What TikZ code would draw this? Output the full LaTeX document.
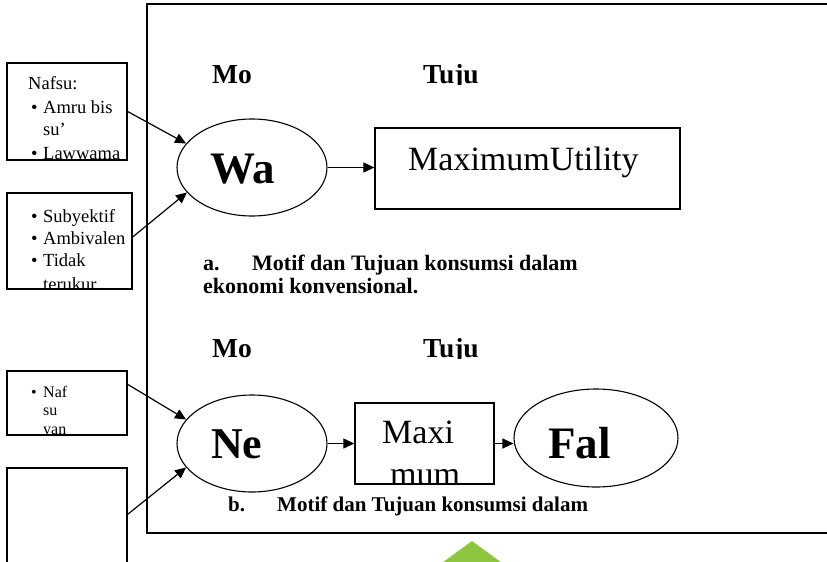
\documentclass[tikz,border=0pt]{standalone}
\usepackage{fontspec}
\setmainfont{Liberation Serif}
\usetikzlibrary{shapes.geometric,arrows.meta}
\definecolor{lgreen}{RGB}{140,198,63}
\begin{document}
\begin{tikzpicture}[x=1pt,y=-1pt,
  boxn/.style={draw,line width=1.3pt,inner sep=0pt,rectangle},
  ell/.style={draw,line width=1.1pt,ellipse,inner sep=0pt},
  txt/.style={inner sep=0pt,anchor=base west},
  lst/.style={txt,font=\fontsize{18.5}{22}\selectfont},
  lsts/.style={txt,font=\fontsize{16}{19}\selectfont},
  head/.style={txt,font=\bfseries\fontsize{27.5}{30}\selectfont},
  big/.style={txt,font=\bfseries\fontsize{45}{50}\selectfont},
  mid/.style={txt,font=\fontsize{34}{40}\selectfont},
  capa/.style={txt,font=\bfseries\fontsize{22}{25}\selectfont},
  capb/.style={txt,font=\bfseries\fontsize{21}{24}\selectfont},
  arr/.style={line width=1.2pt,-{Triangle[length=11pt,width=10pt]}},
  frm/.style={line width=1.4pt}]
\useasboundingbox (0,0) rectangle (827,562);

% frame
\draw[frm] (827,4) -- (147,4) -- (147,533) -- (827,533);

% left boxes
\node[boxn,minimum width=120pt,minimum height=97pt] (b1) at (67,111.5) {};
\node[boxn,minimum width=125pt,minimum height=96pt] (b2) at (69.5,241) {};
\node[boxn,minimum width=120pt,minimum height=64pt] (b3) at (67,403) {};
\node[boxn,minimum width=120pt,minimum height=96pt] (b4) at (67,516) {};

\begin{scope}
\clip (b1.south west) rectangle (b1.north east);
\node[lst] (t1a) at (28,89) {Nafsu:};
\node[lst] (t1b) at (31,113) {•};
\node[lst] (t1c) at (43,113) {Amru bis};
\node[lst] (t1d) at (43,135) {su’};
\node[lst] (t1e) at (31,159.5) {•};
\node[lst] (t1f) at (43,159.5) {Lawwama};
\end{scope}

\begin{scope}
\clip (b2.south west) rectangle (b2.north east);
\node[lst] (t2a) at (31,222) {•};
\node[lst] (t2b) at (43,222) {Subyektif};
\node[lst] (t2c) at (31,244) {•};
\node[lst] (t2d) at (43,244) {Ambivalen};
\node[lst] (t2e) at (31,266) {•};
\node[lst] (t2f) at (43,266) {Tidak};
\node[lst] (t2g) at (43,290) {terukur};
\end{scope}

\begin{scope}
\clip (b3.south west) rectangle (b3.north east);
\node[lsts] (t3a) at (31,397) {•};
\node[lsts] (t3b) at (43,397) {Naf};
\node[lsts] (t3c) at (43,415) {su};
\node[lsts] (t3d) at (43,434) {yan};
\end{scope}

% headings
\node[head] (mo1) at (212,83) {Mo};
\begin{scope}
\clip (400,40) rectangle (520,84.5);
\node[head] (tu1) at (423,83) {Tuju};
\end{scope}
\node[head] (mo2) at (212,357) {Mo};
\begin{scope}
\clip (400,310) rectangle (520,358.5);
\node[head] (tu2) at (423,357) {Tuju};
\end{scope}

% part a
\node[ell,minimum width=150pt,minimum height=97pt] (wa) at (252,167.5) {};
\node[big] (waT) at (210,183) {Wa};
\node[boxn,minimum width=305pt,minimum height=81pt] (mx) at (527.5,168.5) {};
\node[mid] (mxT) at (408,170) {MaximumUtility};

\node[capa] (ca1) at (203,270) {a.};
\node[capa] (ca2) at (252,270) {Motif dan Tujuan konsumsi dalam};
\node[capa] (ca3) at (203,293) {ekonomi konvensional.};

% part b
\node[ell,minimum width=150pt,minimum height=97pt] (ne) at (252,443.5) {};
\node[big,font=\bfseries\fontsize{44}{50}\selectfont] (neT) at (211,458) {Ne};
\node[boxn,minimum width=139pt,minimum height=81pt] (mx2) at (424.5,443.5) {};
\begin{scope}
\clip (mx2.south west) rectangle (mx2.north east);
\node[mid] (mx2a) at (382,443) {Maxi};
\node[mid] (mx2b) at (390,485) {mum};
\end{scope}
\node[ell,minimum width=164pt,minimum height=98pt] (fal) at (596,438) {};
\node[big] (falT) at (548,458) {Fal};

\node[capb] (cb1) at (228,511) {b.};
\node[capb] (cb2) at (277,511) {Motif dan Tujuan konsumsi dalam};

% connectors
\draw[arr] (b1.east) -- (wa.160);
\draw[arr] ([yshift=4pt]b2.east) -- (wa.201);
\draw[arr] (wa.east) -- (wa.east -| mx.west);
\draw[arr] ([yshift=-14pt]b3.north east) -- (ne.160);
\draw[arr] ([yshift=-47pt]b4.north east) -- (ne.200);
\draw[arr] (ne.east) -- (mx2.west);
\draw[arr] (mx2.east) -- (mx2.east -| fal.west);

% green shape
\fill[lgreen] (472,541) -- (502,563) -- (442,563) -- cycle;
\end{tikzpicture}
\end{document}
